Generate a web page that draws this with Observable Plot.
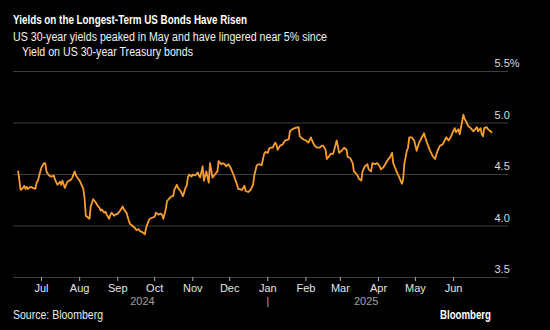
<!DOCTYPE html>
<html>
<head>
<meta charset="utf-8">
<script src="https://cdn.jsdelivr.net/npm/d3@7"></script>
<script src="https://cdn.jsdelivr.net/npm/@observablehq/plot@0.6"></script>
<style>
  html, body { margin: 0; padding: 0; background: #000; }
  body { width: 550px; height: 330px; overflow: hidden; font-family: "Liberation Sans", Arial, sans-serif; color: #fff; }
  #hdr { height: 44px; padding: 11px 0 0 13px; }
  #hdr div { line-height: 15px; white-space: nowrap; }
  .fit { display: inline-block; transform-origin: 0 50%; white-space: nowrap; }
  #title { font-size: 12.5px; font-weight: bold; }
  #sub, #sub2 { font-size: 12px; color: #f2f2f2; }
  #sub2 { padding-left: 9px; }
  #chart svg { display: block; }
  #ftr { position: relative; height: 23px; font-size: 12px; }
  #src { position: absolute; left: 13px; top: 1px; color: #e8e8e8; }
  #brand { position: absolute; left: 440px; top: 1px; font-weight: bold; color: #fff; }
</style>
</head>
<body>
<div id="hdr">
  <div><span id="title" class="fit" data-w="234">Yields on the Longest-Term US Bonds Have Risen</span></div>
  <div><span id="sub" class="fit" data-w="314">US 30-year yields peaked in May and have lingered near 5% since</span></div>
  <div id="sub2"><span class="fit" data-w="171">Yield on US 30-year Treasury bonds</span></div>
</div>
<div id="chart"></div>
<div id="ftr"><span id="src" class="fit" data-w="90">Source: Bloomberg</span><span id="brand" class="fit" data-w="51">Bloomberg</span></div>
<script>
const dates = [
"2024-06-12","2024-06-14","2024-06-16","2024-06-17","2024-06-18","2024-06-19","2024-06-20","2024-06-22","2024-06-24","2024-06-26",
"2024-06-27","2024-06-28","2024-06-30","2024-07-01","2024-07-03","2024-07-04","2024-07-05","2024-07-07","2024-07-09","2024-07-11",
"2024-07-12","2024-07-14","2024-07-16","2024-07-17","2024-07-18","2024-07-20","2024-07-22","2024-07-25","2024-07-26","2024-07-28",
"2024-07-29","2024-08-01","2024-08-04","2024-08-05","2024-08-06","2024-08-08","2024-08-09","2024-08-10","2024-08-12","2024-08-14",
"2024-08-16","2024-08-17","2024-08-18","2024-08-19","2024-08-21","2024-08-22","2024-08-23","2024-08-25","2024-08-26","2024-08-27",
"2024-08-29","2024-08-30","2024-09-01","2024-09-03","2024-09-05","2024-09-06","2024-09-08","2024-09-10","2024-09-11","2024-09-13",
"2024-09-15","2024-09-16","2024-09-18","2024-09-19","2024-09-21","2024-09-23","2024-09-24","2024-09-26","2024-09-27","2024-09-29",
"2024-10-01","2024-10-02","2024-10-04","2024-10-06","2024-10-07","2024-10-08","2024-10-10","2024-10-11","2024-10-13","2024-10-15",
"2024-10-16","2024-10-17","2024-10-19","2024-10-20","2024-10-22","2024-10-24","2024-10-26","2024-10-27","2024-10-28","2024-10-29",
"2024-10-31","2024-11-01","2024-11-03","2024-11-05","2024-11-06","2024-11-07","2024-11-09","2024-11-10","2024-11-12","2024-11-14",
"2024-11-15","2024-11-17","2024-11-19","2024-11-21","2024-11-22","2024-11-24","2024-11-25","2024-11-27","2024-11-28","2024-11-30",
"2024-12-02","2024-12-04","2024-12-05","2024-12-07","2024-12-08","2024-12-11","2024-12-13","2024-12-14","2024-12-16","2024-12-18",
"2024-12-20","2024-12-21","2024-12-23","2024-12-25","2024-12-27","2024-12-29","2024-12-30","2025-01-01","2025-01-02","2025-01-03",
"2025-01-05","2025-01-07","2025-01-08","2025-01-09","2025-01-11","2025-01-13","2025-01-15","2025-01-18","2025-01-19","2025-01-21",
"2025-01-23","2025-01-26","2025-01-27","2025-01-28","2025-01-30","2025-02-01","2025-02-03","2025-02-05","2025-02-06","2025-02-08",
"2025-02-10","2025-02-12","2025-02-14","2025-02-15","2025-02-17","2025-02-18","2025-02-20","2025-02-21","2025-02-23","2025-02-24",
"2025-02-26","2025-02-28","2025-03-02","2025-03-04","2025-03-06","2025-03-07","2025-03-09","2025-03-11","2025-03-12","2025-03-13",
"2025-03-15","2025-03-16","2025-03-18","2025-03-19","2025-03-21","2025-03-23","2025-03-24","2025-03-26","2025-03-27","2025-03-29",
"2025-03-31","2025-04-02","2025-04-03","2025-04-05","2025-04-07","2025-04-09","2025-04-10","2025-04-12","2025-04-13","2025-04-14",
"2025-04-16","2025-04-18","2025-04-20","2025-04-21","2025-04-22","2025-04-24","2025-04-25","2025-04-26","2025-04-28","2025-04-30",
"2025-05-01","2025-05-02","2025-05-04","2025-05-05","2025-05-08","2025-05-09","2025-05-11","2025-05-13","2025-05-15","2025-05-17",
"2025-05-19","2025-05-21","2025-05-23","2025-05-24","2025-05-26","2025-05-28","2025-05-30","2025-05-31","2025-06-02","2025-06-03",
"2025-06-05","2025-06-06","2025-06-07","2025-06-09","2025-06-10","2025-06-11","2025-06-13","2025-06-15","2025-06-17","2025-06-18",
"2025-06-20","2025-06-21","2025-06-23","2025-06-24","2025-06-25","2025-06-26","2025-06-28","2025-06-29","2025-07-01","2025-07-02"
];
const yields = [
4.53,4.35,4.37,4.39,4.36,4.38,4.36,4.38,4.37,4.36,
4.42,4.44,4.53,4.57,4.61,4.61,4.53,4.49,4.48,4.49,
4.45,4.40,4.43,4.40,4.44,4.37,4.43,4.45,4.47,4.53,
4.49,4.44,4.36,4.27,4.10,4.08,4.07,4.19,4.26,4.23,
4.19,4.18,4.15,4.16,4.13,4.14,4.11,4.07,4.11,4.13,
4.10,4.11,4.12,4.15,4.19,4.16,4.13,4.05,4.02,4.00,
3.98,3.96,3.97,3.95,3.94,3.92,3.98,4.05,4.07,4.08,
4.09,4.13,4.11,4.12,4.11,4.07,4.16,4.24,4.27,4.29,
4.29,4.35,4.40,4.37,4.34,4.29,4.37,4.39,4.47,4.50,
4.48,4.50,4.49,4.52,4.49,4.47,4.58,4.44,4.53,4.42,
4.61,4.47,4.50,4.53,4.63,4.60,4.61,4.60,4.58,4.60,
4.56,4.50,4.47,4.40,4.36,4.35,4.39,4.34,4.33,4.35,
4.40,4.49,4.59,4.60,4.59,4.70,4.72,4.71,4.75,4.76,
4.76,4.81,4.79,4.74,4.78,4.79,4.83,4.84,4.92,4.94,
4.95,4.96,4.87,4.86,4.84,4.83,4.81,4.86,4.83,4.78,
4.76,4.76,4.78,4.78,4.74,4.65,4.68,4.70,4.70,4.74,
4.83,4.71,4.73,4.76,4.74,4.67,4.66,4.61,4.53,4.52,
4.49,4.46,4.44,4.53,4.58,4.60,4.55,4.53,4.61,4.60,
4.61,4.58,4.55,4.57,4.61,4.65,4.66,4.71,4.61,4.58,
4.52,4.47,4.41,4.45,4.60,4.73,4.76,4.86,4.86,4.83,
4.78,4.73,4.81,4.83,4.90,4.86,4.79,4.73,4.68,4.65,
4.73,4.78,4.79,4.81,4.86,4.83,4.87,4.90,4.95,4.91,
4.94,4.89,4.95,5.08,5.04,5.02,4.97,4.95,4.92,4.93,
4.96,4.92,4.95,4.89,4.87,4.95,4.96,4.94,4.92,4.91
];
const yTicks = [3.5, 4.0, 4.5, 5.0, 5.5];
const monthTicks = ["2024-07-01","2024-08-01","2024-09-01","2024-10-01","2024-11-01","2024-12-01","2025-01-01","2025-02-01","2025-03-01","2025-04-01","2025-05-01","2025-06-01"];
const yearLabels = [{date: "2024-09-21", label: "2024"}, {date: "2025-03-22", label: "2025"}];
const yearBreak = ["2025-01-01"];
const xDomain = ["2024-06-08T05:00", "2025-07-15T17:00"];

const parse = s => new Date(s);
const data = dates.map((d, i) => ({date: parse(d), value: yields[i]}));

const font = '"Liberation Sans", Arial, sans-serif';
const chart = Plot.plot({
  width: 550,
  height: 252,
  marginTop: 16,
  marginBottom: 30,
  marginLeft: 13,
  marginRight: 42,
  style: {background: "#000", color: "#ddd", fontFamily: font, fontSize: "11px"},
  x: {type: "time", domain: xDomain.map(parse), label: null},
  y: {domain: [3.5, 5.5], label: null},
  marks: [
    Plot.gridY(yTicks, {stroke: "#3c3c3c", strokeOpacity: 1, strokeWidth: 1.2}),
    Plot.axisY(yTicks, {anchor: "right", label: null, tickSize: 0, tickPadding: 0, dx: -14, dy: -8, textAnchor: "start",
      tickFormat: d => d === 5.5 ? "5.5%" : d.toFixed(1), fill: "#ddd", fontSize: 11}),
    Plot.axisX(monthTicks.map(parse), {anchor: "bottom", label: null, tickSize: 4, tickPadding: 3, stroke: "#aaa",
      tickFormat: d3.timeFormat("%b"), fill: "#e6e6e6", fontSize: 11}),
    Plot.text(yearLabels, {x: d => parse(d.date), text: "label", frameAnchor: "bottom", dy: 27, fill: "#a0a0a0", fontSize: 11}),
    Plot.text(yearBreak, {x: d => parse(d), text: () => "|", frameAnchor: "bottom", dy: 28, fill: "#a0a0a0", fontSize: 12}),
    Plot.lineY(data, {x: "date", y: "value", stroke: "#f99e29", strokeWidth: 1.8, curve: "linear"})
  ]
});
document.getElementById("chart").append(chart);

// condense header/footer texts to the reference's narrow typeface widths
document.querySelectorAll(".fit").forEach(el => {
  const target = +el.dataset.w;
  const w = el.getBoundingClientRect().width;
  if (w > 0) el.style.transform = `scaleX(${target / w})`;
});
</script>
</body>
</html>
